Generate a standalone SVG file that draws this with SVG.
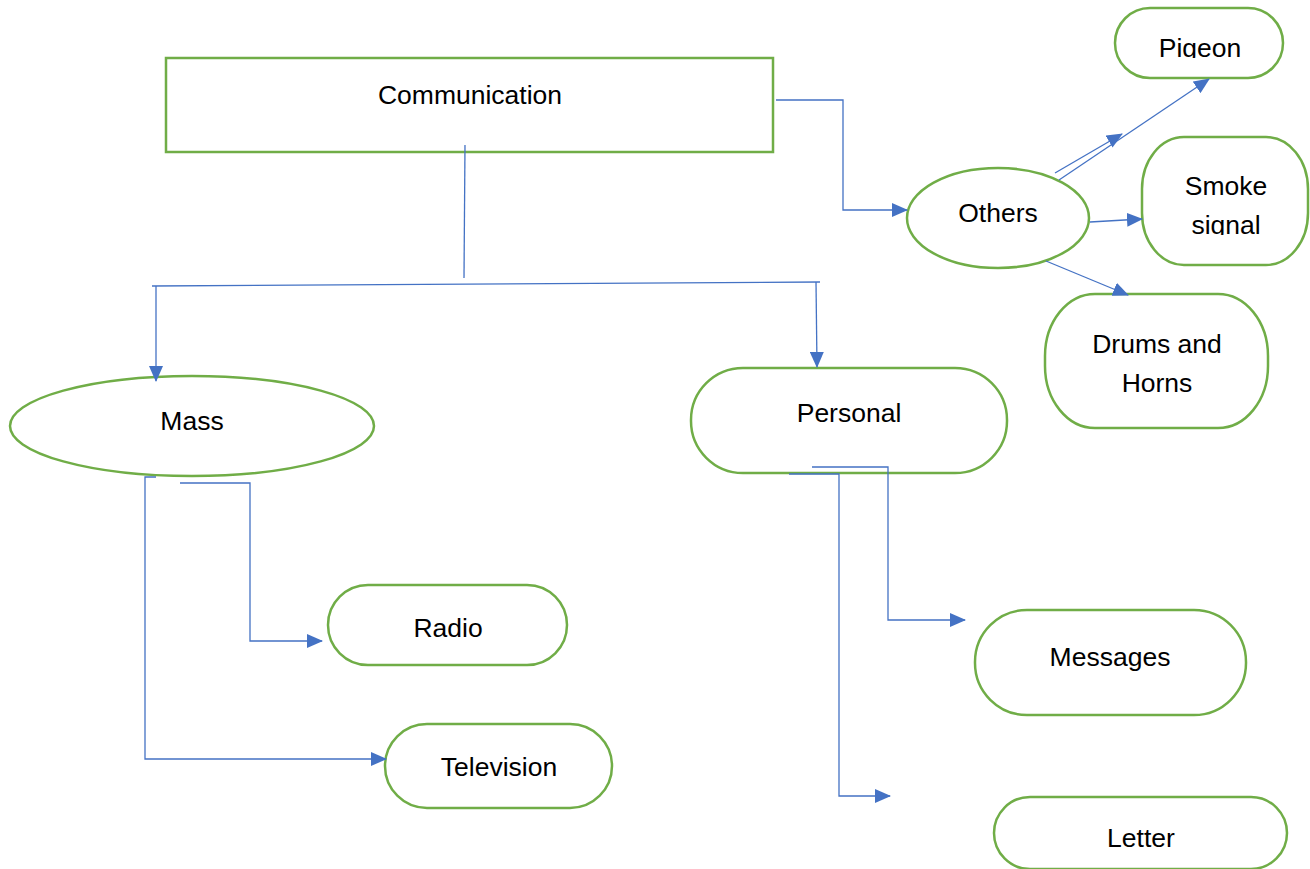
<svg xmlns="http://www.w3.org/2000/svg" width="1310" height="869" viewBox="0 0 1310 869">
<style>
.n{fill:#fff;stroke:#70AD47;stroke-width:2.5}
.t{font-family:"Liberation Sans",Arial,sans-serif;font-size:26.5px;fill:#000;text-anchor:middle}
.c{fill:none;stroke:#4472C4;stroke-width:1.3}
</style>
<defs>
<marker id="a" markerUnits="userSpaceOnUse" markerWidth="16" markerHeight="14" refX="15" refY="7" orient="auto">
<path d="M0,0 L16,7 L0,14 Z" fill="#4472C4"/>
</marker>
<clipPath id="cp"><rect x="1100" y="0" width="200" height="58"/></clipPath>
<clipPath id="cs"><rect x="1140" y="130" width="170" height="105"/></clipPath>
</defs>
<rect width="1310" height="869" fill="#fff"/>
<g id="communication"><rect class="n" x="166" y="58" width="607" height="94"/><text class="t" x="470" y="104">Communication</text></g>
<g id="others"><ellipse class="n" cx="998" cy="218" rx="91" ry="50"/><text class="t" x="998" y="222">Others</text></g>
<g id="pigeon"><rect class="n" x="1115" y="8" width="168" height="70" rx="35"/><text class="t" x="1200" y="57" clip-path="url(#cp)">Pigeon</text></g>
<g id="smoke"><rect class="n" x="1142" y="137" width="166" height="128" rx="42" ry="52"/><g clip-path="url(#cs)"><text class="t" x="1226" y="195">Smoke</text><text class="t" x="1226" y="234">signal</text></g></g>
<g id="drums"><rect class="n" x="1045" y="294" width="223" height="134" rx="50" ry="62"/><text class="t" x="1157" y="353">Drums and</text><text class="t" x="1157" y="392">Horns</text></g>
<g id="mass"><ellipse class="n" cx="192" cy="426" rx="182" ry="50"/><text class="t" x="192" y="430">Mass</text></g>
<g id="personal"><rect class="n" x="691" y="368" width="316" height="105" rx="52"/><text class="t" x="849" y="422">Personal</text></g>
<g id="radio"><rect class="n" x="328" y="585" width="239" height="80" rx="40"/><text class="t" x="448" y="637">Radio</text></g>
<g id="television"><rect class="n" x="385" y="724" width="227" height="84" rx="42"/><text class="t" x="499" y="776">Television</text></g>
<g id="messages"><rect class="n" x="975" y="610" width="271" height="105" rx="52"/><text class="t" x="1110" y="666">Messages</text></g>
<g id="letter"><rect class="n" x="994" y="797" width="293" height="72" rx="36"/><text class="t" x="1141" y="847">Letter</text></g>
<g id="connectors">
<path class="c" d="M465,145 L464,278"/>
<path class="c" d="M152,286 L820,282"/>
<path class="c" d="M156,286 L156,381" marker-end="url(#a)"/>
<path class="c" d="M816,282 L817,367" marker-end="url(#a)"/>
<path class="c" d="M776,100 L843,100 L843,210 L907,210" marker-end="url(#a)"/>
<path class="c" d="M1055,173 L1122,134" marker-end="url(#a)"/>
<path class="c" d="M1059,180 L1209,79" marker-end="url(#a)"/>
<path class="c" d="M1090,222 L1142,219" marker-end="url(#a)"/>
<path class="c" d="M1046,261 L1128,295" marker-end="url(#a)"/>
<path class="c" d="M180,483 L250,483 L250,641 L322,641" marker-end="url(#a)"/>
<path class="c" d="M156,477 L145,477 L145,759 L386,759" marker-end="url(#a)"/>
<path class="c" d="M812,467 L888,467 L888,620 L965,620" marker-end="url(#a)"/>
<path class="c" d="M789,474 L839,474 L839,796 L890,796" marker-end="url(#a)"/>
</g>
</svg>
